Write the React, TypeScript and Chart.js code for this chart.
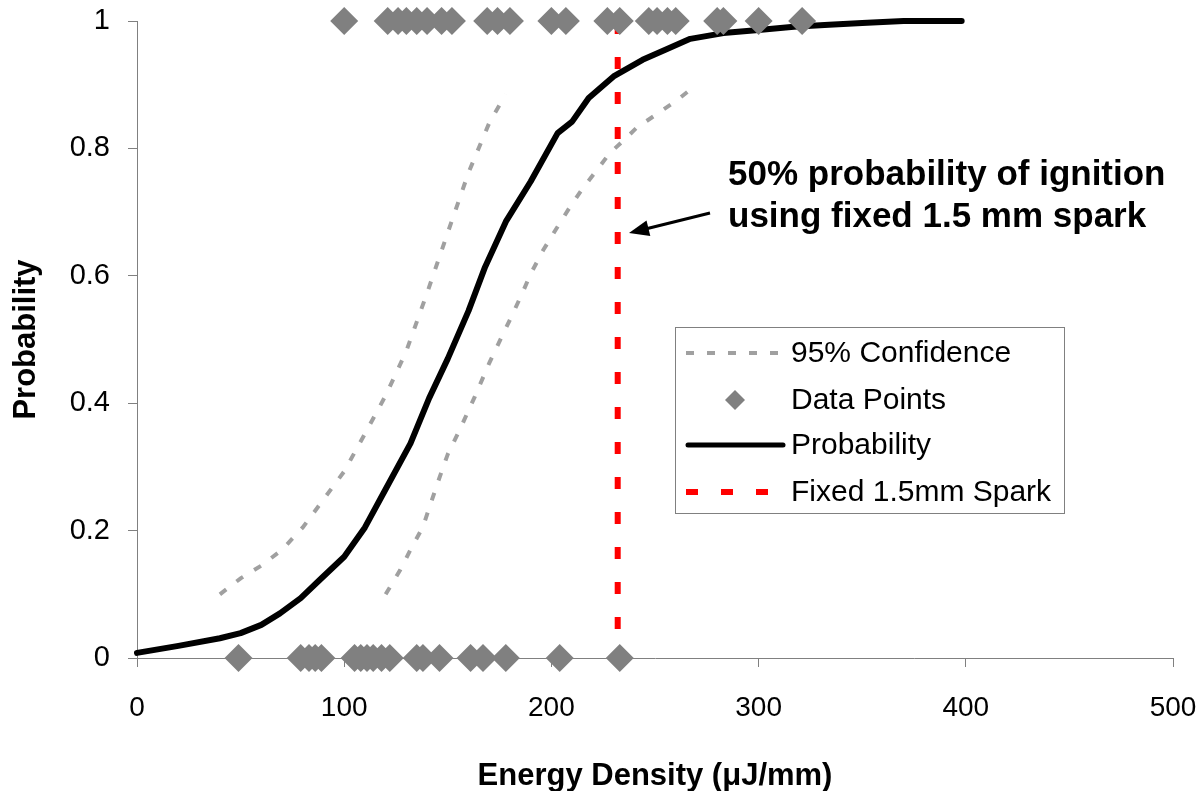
import React, { useEffect, useRef } from 'react';
import { Chart, registerables } from 'chart.js';

Chart.register(...registerables);

// Probability curve (fitted)
const probX = [0, 20, 40, 50, 60, 69, 79, 88, 100, 110, 119, 132, 141, 150, 160, 168, 178, 190, 203, 210, 218, 230, 244, 255, 267, 283, 300, 317, 334, 350, 370, 398];
const probY = [0.008, 0.019, 0.031, 0.039, 0.052, 0.07, 0.094, 0.122, 0.159, 0.205, 0.259, 0.337, 0.408, 0.47, 0.545, 0.614, 0.685, 0.748, 0.824, 0.842, 0.879, 0.913, 0.939, 0.955, 0.972, 0.981, 0.986, 0.991, 0.994, 0.997, 1.0, 1.0];

// 95% confidence bounds
const upperX = [40, 50, 60, 70, 80, 88, 100, 110, 120, 130, 140, 150, 160, 170, 178];
const upperY = [0.1, 0.125, 0.145, 0.17, 0.205, 0.24, 0.293, 0.352, 0.412, 0.482, 0.573, 0.668, 0.762, 0.84, 0.885];
const lowerX = [120, 127, 132, 138, 145, 150, 156, 163, 170, 176, 181, 186, 190, 196, 202, 208, 215, 222, 228, 235, 241, 250, 260, 270];
const lowerY = [0.1, 0.138, 0.17, 0.206, 0.274, 0.32, 0.36, 0.41, 0.463, 0.504, 0.538, 0.573, 0.603, 0.64, 0.672, 0.703, 0.737, 0.766, 0.792, 0.813, 0.832, 0.852, 0.874, 0.9];

// Observed data points: ignition (y = 1) and no ignition (y = 0)
const igniteX = [100, 121, 126, 130, 135, 140, 147, 152, 169, 174, 180, 200, 207, 227, 233, 247, 251, 256, 260, 280, 283, 300, 321];
const noIgniteX = [49, 79, 83, 86, 89, 105, 108, 111, 114, 118, 122, 135, 138, 146, 161, 167, 178, 204, 233];

// Fixed spark energy
const sparkX = [232, 232];
const sparkY = [0, 1];

const xTickStep = 100;
const yTickStep = 0.2;

const FONT = "'Liberation Sans', Arial, sans-serif";

const zip = (xs: number[], ys: number[]) => xs.map((x, i) => ({ x, y: ys[i] }));

const overlayPlugin = {
  id: 'overlay',
  afterDraw(chart: any) {
    const ctx = chart.ctx as CanvasRenderingContext2D;
    ctx.save();
    // Legend box
    const bx = 675.5, by = 327.5, bw = 389, bh = 186;
    ctx.fillStyle = '#ffffff';
    ctx.fillRect(bx, by, bw, bh);
    ctx.strokeStyle = '#808080';
    ctx.lineWidth = 1;
    ctx.strokeRect(bx, by, bw, bh);

    const rows = [353, 400, 445, 492];
    const labels = ['95% Confidence', 'Data Points', 'Probability', 'Fixed 1.5mm Spark'];
    const x0 = 686, x1 = 783;
    // row 1: gray dashed
    ctx.beginPath();
    ctx.setLineDash([8, 13]);
    ctx.strokeStyle = '#a0a0a0';
    ctx.lineWidth = 4;
    ctx.moveTo(x0, rows[0]);
    ctx.lineTo(x1, rows[0]);
    ctx.stroke();
    // row 2: diamond
    ctx.setLineDash([]);
    ctx.beginPath();
    const cx = 735, cy = rows[1], r = 10;
    ctx.moveTo(cx, cy - r);
    ctx.lineTo(cx + r, cy);
    ctx.lineTo(cx, cy + r);
    ctx.lineTo(cx - r, cy);
    ctx.closePath();
    ctx.fillStyle = '#808080';
    ctx.fill();
    // row 3: black line
    ctx.beginPath();
    ctx.strokeStyle = '#000000';
    ctx.lineWidth = 5;
    ctx.lineCap = 'round';
    ctx.moveTo(x0 + 2, rows[2]);
    ctx.lineTo(x1, rows[2]);
    ctx.stroke();
    ctx.lineCap = 'butt';
    // row 4: red dashed
    ctx.beginPath();
    ctx.setLineDash([12, 23]);
    ctx.strokeStyle = '#ff0000';
    ctx.lineWidth = 6;
    ctx.moveTo(x0, rows[3]);
    ctx.lineTo(x1, rows[3]);
    ctx.stroke();
    ctx.setLineDash([]);

    ctx.fillStyle = '#000000';
    ctx.font = `30px ${FONT}`;
    ctx.textBaseline = 'middle';
    ctx.textAlign = 'left';
    labels.forEach((t, i) => ctx.fillText(t, 791, rows[i] + 1));

    // Annotation
    ctx.font = `bold 35px ${FONT}`;
    ctx.textBaseline = 'alphabetic';
    ctx.fillText('50% probability of ignition', 728, 185);
    ctx.fillText('using fixed 1.5 mm spark', 728, 227);

    // Arrow
    const tail = { x: 710, y: 213 };
    const tip = { x: 629, y: 233 };
    const dx = tip.x - tail.x, dy = tip.y - tail.y;
    const len = Math.hypot(dx, dy);
    const ux = dx / len, uy = dy / len;
    const hl = 20, hw = 8;
    const bxh = tip.x - ux * hl, byh = tip.y - uy * hl;
    ctx.beginPath();
    ctx.strokeStyle = '#000000';
    ctx.lineWidth = 3;
    ctx.moveTo(tail.x, tail.y);
    ctx.lineTo(bxh + ux * 2, byh + uy * 2);
    ctx.stroke();
    ctx.beginPath();
    ctx.moveTo(tip.x, tip.y);
    ctx.lineTo(bxh - uy * hw, byh + ux * hw);
    ctx.lineTo(bxh + uy * hw, byh - ux * hw);
    ctx.closePath();
    ctx.fillStyle = '#000000';
    ctx.fill();
    ctx.restore();
  },
};

export default function App() {
  const ref = useRef<HTMLCanvasElement>(null);
  useEffect(() => {
    if (!ref.current) return;
    const chart = new Chart(ref.current, {
      type: 'scatter',
      data: {
        datasets: [
          {
            label: 'Data Points',
            data: [...igniteX.map((x) => ({ x, y: 1 })), ...noIgniteX.map((x) => ({ x, y: 0 }))],
            pointStyle: 'rectRot',
            pointRadius: 14,
            pointBackgroundColor: '#808080',
            pointBorderWidth: 0,
            pointBorderColor: '#808080',
            showLine: false,
            clip: false,
          } as any,
          {
            label: 'Fixed 1.5mm Spark',
            data: zip(sparkX, sparkY),
            showLine: true,
            borderColor: '#ff0000',
            borderWidth: 6,
            borderDash: [12, 23],
            borderDashOffset: 6,
            pointRadius: 0,
            clip: false,
          } as any,
          {
            label: 'Probability',
            data: zip(probX, probY),
            showLine: true,
            borderColor: '#000000',
            borderWidth: 6,
            pointRadius: 0,
            borderCapStyle: 'round',
            borderJoinStyle: 'round',
            clip: false,
          } as any,
          {
            label: '95% Confidence',
            data: zip(upperX, upperY),
            showLine: true,
            borderColor: '#a0a0a0',
            borderWidth: 4,
            borderDash: [8, 13],
            pointRadius: 0,
          } as any,
          {
            label: '95% Confidence (lower)',
            data: zip(lowerX, lowerY),
            showLine: true,
            borderColor: '#a0a0a0',
            borderWidth: 4,
            borderDash: [8, 13],
            pointRadius: 0,
          } as any,
        ],
      },
      options: {
        responsive: false,
        animation: false,
        devicePixelRatio: 1,
        layout: { padding: { left: 0, right: 23, top: 21, bottom: 0 } },
        plugins: { legend: { display: false }, tooltip: { enabled: false } },
        scales: {
          x: {
            type: 'linear',
            min: 0,
            max: 500,
            ticks: { stepSize: xTickStep, color: '#000', font: { size: 28, family: FONT }, padding: 24, maxRotation: 0 },
            grid: { drawOnChartArea: false, drawTicks: true, tickLength: 9, color: '#808080' },
            border: { display: true, color: '#808080', width: 1 },
            title: {
              display: true,
              text: 'Energy Density (μJ/mm)',
              color: '#000',
              font: { size: 31, weight: 'bold', family: FONT },
              padding: { top: 0, bottom: -4 },
            },
            afterFit: (s: any) => {
              s.height = 133;
              s.paddingLeft = 0;
              s.paddingRight = 0;
            },
          },
          y: {
            type: 'linear',
            min: 0,
            max: 1,
            ticks: {
              stepSize: yTickStep,
              color: '#000',
              font: { size: 29, family: FONT },
              padding: 18,
              callback: (v: any) => String(Math.round(Number(v) * 10) / 10),
            },
            grid: { drawOnChartArea: false, drawTicks: true, tickLength: 9, color: '#808080' },
            border: { display: true, color: '#808080', width: 1 },
            title: {
              display: true,
              text: 'Probability',
              color: '#000',
              font: { size: 31, weight: 'bold', family: FONT },
              padding: { top: 8, bottom: 0 },
            },
            afterFit: (s: any) => {
              s.width = 137;
              s.paddingTop = 0;
              s.paddingBottom = 0;
            },
          },
        },
      } as any,
      plugins: [overlayPlugin],
    });
    return () => chart.destroy();
  }, []);
  return (
    <div style={{ position: 'fixed', left: 0, top: 0, width: 1196, height: 791, background: '#fff' }}>
      <canvas ref={ref} width={1196} height={791} style={{ display: 'block' }} />
    </div>
  );
}
